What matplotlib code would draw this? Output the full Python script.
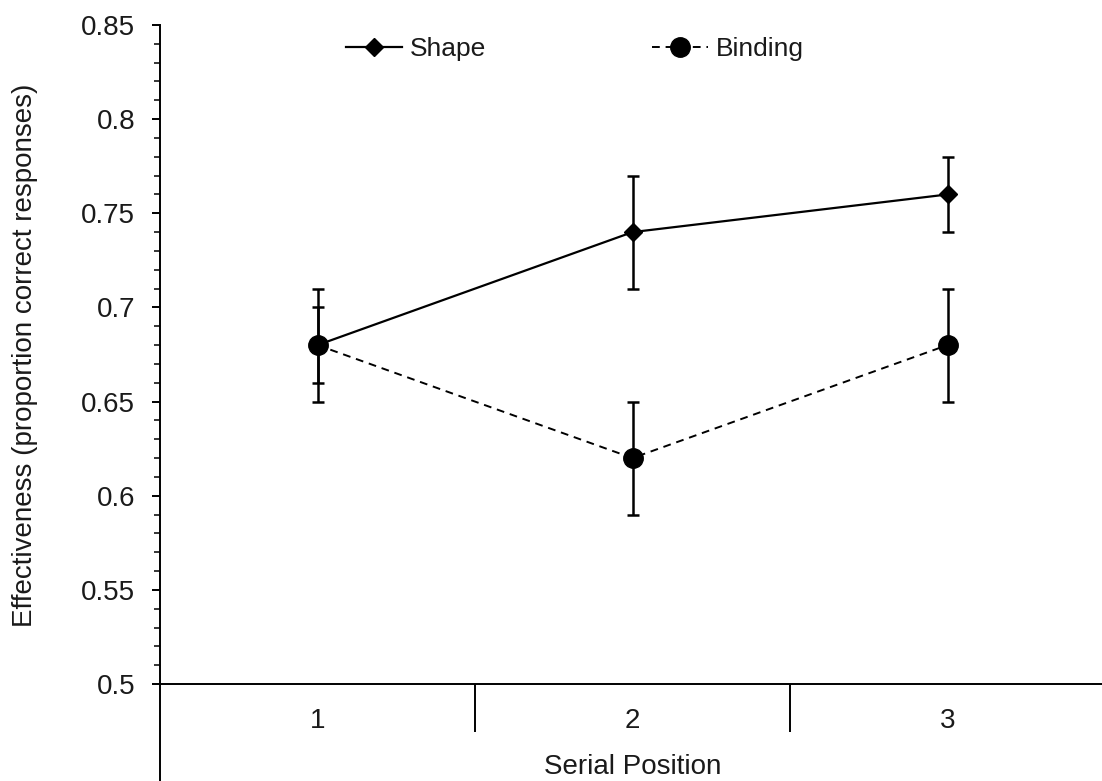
import numpy as np
import matplotlib
matplotlib.use("Agg")
import matplotlib.pyplot as plt
from matplotlib.lines import Line2D
from matplotlib.ticker import FixedLocator, NullFormatter

plt.rcParams["font.family"] = ["Liberation Sans", "DejaVu Sans"]

# ── Dados ────────────────────────────────────────────────────────────────────
positions = [1, 2, 3]
pos_labels = ["1", "2", "3"]
shape_mean = [0.68, 0.74, 0.76]
shape_err = [0.02, 0.03, 0.02]
binding_mean = [0.68, 0.62, 0.68]
binding_err = [0.03, 0.03, 0.03]

y_major = [0.5, 0.55, 0.6, 0.65, 0.7, 0.75, 0.8, 0.85]
y_major_labels = ["0.5", "0.55", "0.6", "0.65", "0.7", "0.75", "0.8", "0.85"]

FS = 20
TXT = "#1a1a1a"
DASH = (0, (4, 3))
fig = plt.figure(figsize=(11.02, 7.81), dpi=100)
ax = fig.add_axes([160 / 1102, 0.0, 942 / 1102, 756 / 781])

# eixo y: 0.5 em 684 px, 0.85 em 25 px
ppu = (684 - 25) / 0.35
ax.set_ylim(0.5 - 97 / ppu, 0.85)
ax.set_xlim(0.5, 0.5 + 942 / 315)

ax.errorbar(positions, shape_mean, yerr=shape_err, color="black", lw=1.6,
            marker="D", ms=9, elinewidth=1.8, capsize=4, capthick=1.8,
            zorder=3)
ax.errorbar(positions, binding_mean, yerr=binding_err, color="black", lw=1.4,
            ls=DASH, marker="o", ms=14, elinewidth=1.8, capsize=4,
            capthick=1.8, zorder=3)

# spines estilo Excel
for s in ("top", "right"):
    ax.spines[s].set_visible(False)
ax.spines["bottom"].set_position(("data", 0.5))
ax.spines["left"].set_linewidth(1.4)
ax.spines["bottom"].set_linewidth(1.4)

ax.yaxis.set_major_locator(FixedLocator(y_major))
ax.set_yticklabels(y_major_labels, fontsize=FS, color=TXT)
ax.yaxis.set_minor_locator(FixedLocator(np.round(np.arange(0.5, 0.851, 0.01), 2)))
ax.tick_params(axis="y", which="major", length=6, width=1.4, pad=12)
ax.tick_params(axis="y", which="minor", length=4, width=1.1)

# rótulos de categoria + ticks de separação
ax.set_xticks(positions)
ax.set_xticklabels(pos_labels, fontsize=FS, color=TXT)
ax.tick_params(axis="x", which="major", length=0, pad=17)
ax.xaxis.set_minor_locator(FixedLocator([1.5, 2.5]))
ax.xaxis.set_minor_formatter(NullFormatter())
ax.tick_params(axis="x", which="minor", length=34.5, width=1.4, direction="out")

ax.text(2, 0.5 - 83 / ppu, "Serial Position", ha="center", va="center",
        fontsize=FS, color=TXT)
ax.set_ylabel("Effectiveness (proportion correct responses)", fontsize=FS,
              color=TXT)
ax.yaxis.set_label_coords(-122 / 942, (781 - 355) / 781 / (756 / 781))

handles = [
    Line2D([], [], color="black", lw=1.6, marker="D", ms=9),
    Line2D([], [], color="black", lw=1.4, ls=DASH, marker="o", ms=14),
]
ax.legend(handles, ["Shape", "Binding"], loc="center",
          bbox_to_anchor=((575 - 160) / 942, 1 - 24 / 756), ncol=2,
          frameon=False, fontsize=19, handlelength=2.1, columnspacing=6.3,
          handletextpad=0.3, labelcolor=TXT)

fig.savefig("out.png", dpi=100)
